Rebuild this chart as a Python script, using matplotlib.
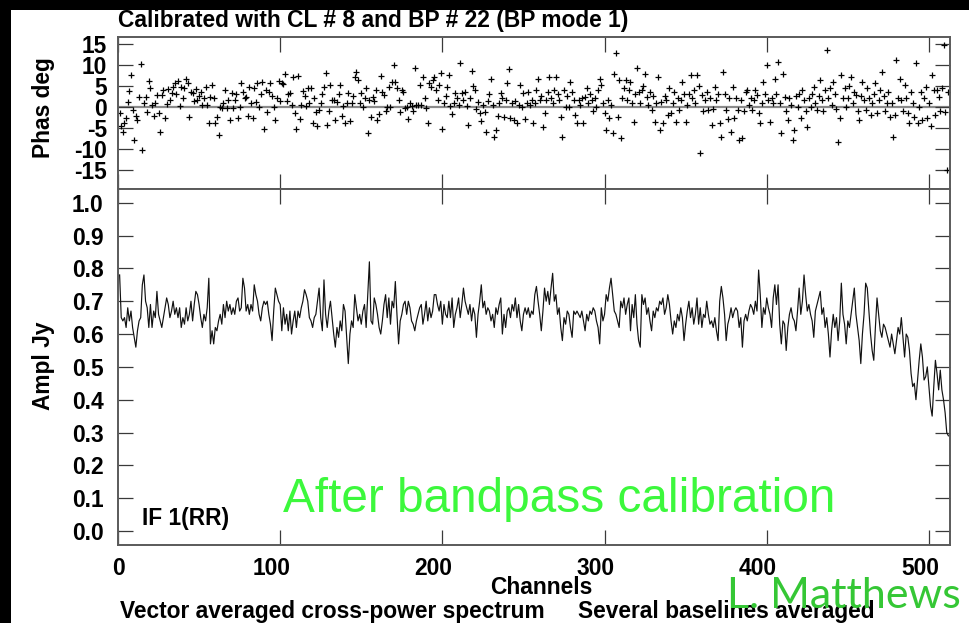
import numpy as np
import matplotlib
matplotlib.use('Agg')
import matplotlib.pyplot as plt
from matplotlib.patches import Rectangle

# ---------------- data ----------------
amplitude = [
    0.78, 0.65, 0.64, 0.65, 0.62, 0.68, 0.64, 0.67, 0.62, 0.59, 0.56, 0.61, 0.64, 0.65, 0.75, 0.78,
    0.70, 0.68, 0.62, 0.69, 0.62, 0.67, 0.65, 0.73, 0.66, 0.64, 0.62, 0.65, 0.68, 0.71, 0.69, 0.65,
    0.67, 0.70, 0.66, 0.68, 0.65, 0.68, 0.62, 0.65, 0.63, 0.68, 0.64, 0.66, 0.70, 0.64, 0.69, 0.73,
    0.72, 0.69, 0.65, 0.62, 0.66, 0.64, 0.68, 0.77, 0.57, 0.61, 0.57, 0.62, 0.61, 0.64, 0.66, 0.63,
    0.69, 0.65, 0.70, 0.67, 0.69, 0.66, 0.68, 0.66, 0.70, 0.71, 0.67, 0.68, 0.77, 0.74, 0.67, 0.69,
    0.66, 0.69, 0.67, 0.75, 0.72, 0.70, 0.66, 0.64, 0.68, 0.70, 0.69, 0.70, 0.66, 0.63, 0.58, 0.67,
    0.74, 0.72, 0.70, 0.69, 0.61, 0.68, 0.63, 0.66, 0.61, 0.67, 0.60, 0.64, 0.67, 0.62, 0.67, 0.65,
    0.68, 0.70, 0.735, 0.72, 0.70, 0.65, 0.64, 0.62, 0.65, 0.66, 0.70, 0.74, 0.65, 0.61, 0.765, 0.66,
    0.62, 0.67, 0.70, 0.65, 0.60, 0.56, 0.62, 0.59, 0.64, 0.61, 0.69, 0.67, 0.59, 0.51, 0.60, 0.64,
    0.62, 0.72, 0.68, 0.64, 0.66, 0.63, 0.67, 0.69, 0.62, 0.72, 0.82, 0.64, 0.63, 0.71, 0.69, 0.66,
    0.62, 0.60, 0.64, 0.69, 0.72, 0.65, 0.71, 0.63, 0.70, 0.68, 0.76, 0.66, 0.57, 0.64, 0.66, 0.69,
    0.70, 0.66, 0.70, 0.68, 0.64, 0.63, 0.61, 0.64, 0.66, 0.68, 0.69, 0.63, 0.66, 0.70, 0.64, 0.68,
    0.65, 0.67, 0.72, 0.72, 0.69, 0.67, 0.70, 0.63, 0.69, 0.66, 0.65, 0.70, 0.65, 0.71, 0.62, 0.66,
    0.68, 0.71, 0.65, 0.69, 0.74, 0.70, 0.68, 0.66, 0.69, 0.64, 0.68, 0.66, 0.59, 0.66, 0.70, 0.75,
    0.68, 0.70, 0.66, 0.68, 0.67, 0.64, 0.66, 0.62, 0.68, 0.66, 0.69, 0.71, 0.60, 0.66, 0.62, 0.67,
    0.68, 0.65, 0.69, 0.67, 0.71, 0.65, 0.69, 0.64, 0.61, 0.66, 0.68, 0.66, 0.68, 0.65, 0.67, 0.66,
    0.72, 0.745, 0.70, 0.66, 0.61, 0.67, 0.74, 0.70, 0.73, 0.69, 0.74, 0.785, 0.70, 0.72, 0.66, 0.68,
    0.62, 0.58, 0.65, 0.63, 0.67, 0.66, 0.62, 0.59, 0.67, 0.66, 0.67, 0.66, 0.65, 0.67, 0.64, 0.61,
    0.66, 0.64, 0.67, 0.66, 0.68, 0.67, 0.64, 0.62, 0.57, 0.68, 0.64, 0.66, 0.72, 0.70, 0.74, 0.77,
    0.72, 0.67, 0.66, 0.64, 0.62, 0.70, 0.68, 0.71, 0.66, 0.69, 0.71, 0.61, 0.69, 0.65, 0.72, 0.63,
    0.58, 0.56, 0.72, 0.69, 0.71, 0.66, 0.68, 0.64, 0.61, 0.67, 0.65, 0.68, 0.67, 0.70, 0.69, 0.71,
    0.66, 0.68, 0.72, 0.69, 0.64, 0.60, 0.64, 0.62, 0.66, 0.64, 0.68, 0.65, 0.58, 0.63, 0.67, 0.70,
    0.65, 0.68, 0.63, 0.66, 0.71, 0.63, 0.68, 0.62, 0.66, 0.65, 0.70, 0.66, 0.63, 0.64, 0.62, 0.65,
    0.61, 0.58, 0.70, 0.745, 0.71, 0.66, 0.58, 0.63, 0.65, 0.68, 0.65, 0.67, 0.68, 0.67, 0.62, 0.65,
    0.56, 0.64, 0.66, 0.64, 0.67, 0.69, 0.68, 0.66, 0.70, 0.67, 0.795, 0.72, 0.62, 0.68, 0.66, 0.71,
    0.68, 0.66, 0.62, 0.71, 0.75, 0.69, 0.75, 0.63, 0.57, 0.64, 0.63, 0.55, 0.62, 0.66, 0.68, 0.65,
    0.64, 0.61, 0.67, 0.74, 0.66, 0.70, 0.78, 0.72, 0.67, 0.69, 0.66, 0.64, 0.59, 0.67, 0.69, 0.71,
    0.73, 0.66, 0.68, 0.62, 0.65, 0.60, 0.53, 0.61, 0.66, 0.62, 0.65, 0.58, 0.64, 0.755, 0.66, 0.63,
    0.57, 0.64, 0.62, 0.66, 0.70, 0.74, 0.66, 0.62, 0.58, 0.51, 0.60, 0.66, 0.755, 0.74, 0.67, 0.60,
    0.55, 0.52, 0.62, 0.71, 0.66, 0.61, 0.59, 0.63, 0.62, 0.60, 0.58, 0.56, 0.60, 0.57, 0.54, 0.58,
    0.62, 0.60, 0.65, 0.59, 0.53, 0.60, 0.59, 0.55, 0.48, 0.44, 0.45, 0.40, 0.46, 0.52, 0.57, 0.53,
    0.46, 0.47, 0.50, 0.44, 0.38, 0.35, 0.44, 0.52, 0.48, 0.43, 0.49, 0.43, 0.40, 0.36, 0.30, 0.29,
]

phase = [
    -1.5, -4.5, -6.0, -3.8, -2.8, 1.2, 3.8, 7.5, -0.8, -7.9, -2.2, -3.2, 2.2, 10.1, -10.2, 0.8,
    2.2, -1.2, 6.2, 4.4, 0.4, -2.2, 1.0, 2.8, -1.4, -6.0, 2.8, 4.0, -2.8, 0.6, 4.1, 1.5,
    3.2, 4.8, 5.6, 3.0, 6.2, 0.2, 4.8, 2.0, 4.4, 6.7, 5.6, -2.4, 3.6, 3.3, 1.4, 4.1,
    1.6, 2.6, 3.5, 0.4, 2.0, 4.8, 0.5, -3.8, 2.4, 5.2, 2.0, -3.8, -2.5, -6.7, 0.0, -0.4,
    1.0, 4.0, -0.4, 1.6, -3.2, 3.2, -0.4, 1.5, 3.0, -2.8, 0.0, 5.7, 3.6, 2.0, 2.4, -2.2,
    4.8, 1.0, -2.8, 4.4, 1.2, 5.6, 0.0, 3.0, 6.0, -5.2, 4.0, -1.2, 3.6, 5.6, 2.5, 0.0,
    -3.2, 2.0, 6.2, 1.4, 5.6, 5.5, 7.9, 1.4, 3.0, 3.2, 0.5, 7.0, -1.4, -5.2, 7.3, -3.0,
    0.4, 3.8, 2.5, 0.2, 4.4, 1.0, 4.4, -4.0, 2.0, -1.2, -4.6, -0.8, 1.0, 3.0, 4.8, 8.1,
    -4.4, -1.0, 5.2, 1.7, 1.6, -3.2, 1.2, 3.0, 5.2, -2.2, 0.2, -3.8, 1.0, 3.3, -3.3, 1.0,
    2.5, 7.0, 8.3, 6.3, 1.0, 3.2, 0.0, 2.0, 4.4, -6.3, 1.5, -2.4, 2.2, 1.4, 4.0, -3.2,
    -1.7, 7.3, 3.6, 2.8, -1.0, 0.0, 4.6, 0.0, 6.0, 9.9, 6.0, 4.4, 1.7, -1.2, 4.0, 3.6,
    -0.4, 0.0, -3.0, 1.0, 0.2, -1.0, 9.1, 0.4, 0.4, 5.2, 0.4, 7.1, 2.0, -0.4, -3.8, 5.7,
    4.6, 6.3, 7.1, 4.0, 1.5, 5.2, 8.1, -5.2, 1.0, 2.5, 4.6, 7.5, 0.2, -1.7, 1.0, 3.2,
    2.0, 0.5, 10.5, 3.2, 1.5, 3.6, 0.2, -4.4, 2.0, 8.6, 4.9, 4.0, -0.6, 1.2, -1.4, -3.3,
    0.5, -1.2, -6.0, 1.4, 3.0, 6.7, 0.4, -7.1, -5.6, -2.2, 1.0, 3.2, 2.0, -2.4, 1.5, 5.6,
    8.9, -2.8, 1.0, -3.2, 1.4, -3.8, 0.4, 5.2, 0.0, 3.2, -3.0, 1.0, 3.6, 0.5, 1.6, -3.8,
    1.0, 4.0, 6.7, 1.6, 2.5, -4.8, -1.5, 1.6, 3.5, 7.1, 2.0, 0.8, 4.0, 7.1, 3.0, 1.6,
    -2.5, -7.1, 4.0, 0.0, 2.5, 0.0, 6.0, 3.5, 1.6, -2.0, -4.0, 1.6, 0.5, 2.0, -3.8, 2.4,
    4.5, 0.8, 3.0, 1.6, -1.0, 2.0, 0.0, 4.0, 6.7, 5.2, 0.8, -1.6, -5.6, 1.5, -2.8, 0.5,
    -6.3, 7.9, 12.7, -2.4, 6.3, -7.5, 2.0, 4.5, 6.3, 1.6, 4.0, 6.0, 1.0, -3.6, 3.0, 9.1,
    3.6, 1.0, 4.0, 5.0, 7.9, 2.4, 0.5, 3.6, -0.8, 2.5, -3.6, 1.0, 7.1, -5.6, 1.2, -4.0,
    2.5, 1.6, -2.0, 4.5, -1.6, 1.0, 3.6, -3.6, 2.0, -0.8, 1.5, 6.0, 3.0, -3.6, 0.5, 3.0,
    7.5, 2.0, 4.0, 1.0, 7.5, 5.0, -11.1, 2.8, -1.0, 1.6, 3.5, -0.8, 2.0, -4.4, -0.5, 4.8,
    1.5, 3.0, -4.0, -7.1, 8.3, 3.0, -0.8, -3.0, 2.0, -6.0, 4.8, -2.8, 2.0, -0.8, -7.9, 1.6,
    -7.5, -1.0, 3.5, 4.0, 0.5, 2.0, -0.8, 1.5, 4.0, 2.8, -1.5, -4.0, 1.0, 6.0, 3.0, 9.9,
    1.5, -3.6, 2.0, 0.8, 6.7, 3.0, 10.7, 1.0, -6.3, 7.9, 2.4, -1.0, -3.2, 2.0, 0.5, -7.9,
    -5.6, 2.5, 0.0, 3.0, -2.8, 4.0, 1.5, -1.0, -4.8, 2.0, 0.0, 3.0, 4.8, 1.0, -0.8, 2.5,
    6.3, 1.5, -1.0, 4.0, 13.5, 2.0, 4.4, 0.5, 6.0, 3.0, -0.5, -8.3, -2.8, 7.5, 2.0, 4.4,
    0.0, 2.0, 5.0, 7.1, 1.0, 3.5, 2.8, -1.0, -3.2, 2.5, 6.0, 1.5, -0.8, 4.4, 2.0, -2.0,
    0.8, 3.0, 5.6, -1.5, 1.6, 4.0, 8.3, 2.5, -1.0, 0.8, 3.5, -2.4, 1.0, -7.1, -2.0, 11.1,
    2.0, 6.7, 1.5, -1.0, 5.2, 2.0, -1.6, -4.0, 3.6, 1.0, -2.5, 10.3, -4.0, 0.0, 3.5, -3.2,
    2.0, 4.8, -2.8, 1.0, -4.5, 7.5, 4.0, -2.0, 4.0, 2.4, -1.0, 4.5, 14.7, -1.2, -15.1, 3.5,
]

amp_channels = np.arange(1, len(amplitude) + 1)
phase_channels = np.arange(1, len(phase) + 1)

x_ticks = [0, 100, 200, 300, 400, 500]
x_tick_labels = ['0', '100', '200', '300', '400', '500']
phase_ticks = [-15, -10, -5, 0, 5, 10, 15]
phase_tick_labels = ['-15', '-10', '-5', '0', '5', '10', '15']
amp_ticks = [0.0, 0.1, 0.2, 0.3, 0.4, 0.5, 0.6, 0.7, 0.8, 0.9, 1.0]
amp_tick_labels = ['0.0', '0.1', '0.2', '0.3', '0.4', '0.5', '0.6', '0.7', '0.8', '0.9', '1.0']

title_text = 'Calibrated with CL # 8 and BP # 22 (BP mode 1)'
phase_label = 'Phas deg'
amp_label = 'Ampl Jy'
x_label = 'Channels'
footer_left = 'Vector averaged cross-power spectrum'
footer_right = 'Several baselines averaged'
if_label = 'IF 1(RR)'
note_text = 'After bandpass calibration'
credit_text = 'L. Matthews'

# ---------------- figure ----------------
W, H = 969, 623
plt.rcParams['font.family'] = ['Liberation Sans', 'DejaVu Sans']
plt.rcParams['font.weight'] = 'bold'
FS = 16.4

fig = plt.figure(figsize=(W / 100, H / 100), dpi=100, facecolor='black')
fig.add_artist(Rectangle((11 / W, 0), 1 - 11 / W, 1 - 10 / H, transform=fig.transFigure,
                         facecolor='white', edgecolor='none', zorder=-10))


def fx(x):
    return x / W


def fy(y):
    return 1 - y / H


L, R = 118, 950
ax1 = fig.add_axes([fx(L), fy(189), (R - L) / W, (189 - 37) / H])
ax2 = fig.add_axes([fx(L), fy(545), (R - L) / W, (545 - 189) / H])

ax1.axhline(0, color='#8a8a8a', lw=1.6, zorder=1)
ax1.plot(phase_channels, phase, linestyle='none', marker='+', ms=4.5, mew=0.9,
         color='black', zorder=2)
ax1.set_xlim(0, 513)
ax1.set_ylim(-19.6, 16.6)

ax2.plot(amp_channels, amplitude, color='#111111', lw=0.85)
ax2.set_xlim(0, 513)
ax2.set_ylim(-0.0426, 1.0418)

for ax in (ax1, ax2):
    ax.set_facecolor('white')
    ax.tick_params(direction='in', length=10.8, width=0.9, color='#3a3a3a',
                   top=True, right=True, labelsize=FS)
    ax.set_xticks(x_ticks)
    ax.set_xticklabels([])
    for s in ax.spines.values():
        s.set_color('#5a5a5a')
        s.set_linewidth(1.4)

ax1.set_yticks(phase_ticks)
ax1.set_yticklabels(phase_tick_labels, fontweight='bold')
ax1.tick_params(axis='y', pad=7.8)
ax2.set_yticks(amp_ticks)
ax2.set_yticklabels(amp_tick_labels, fontweight='bold')
ax2.tick_params(axis='y', pad=10.5)

for v, lab in zip(x_ticks, x_tick_labels):
    dx = 0 if lab == '0' else -6.5
    ax2.annotate(lab, xy=(v, 0), xycoords=('data', 'axes fraction'),
                 xytext=(dx, -8.6), textcoords='offset points',
                 ha='center', va='top', fontsize=FS, fontweight='bold')

fig.text(fx(118), fy(27), title_text, ha='left', va='baseline', fontsize=FS, fontweight='bold')
fig.text(fx(43.5), fy(107.5), phase_label, rotation=90, ha='center', va='center',
         fontsize=FS, fontweight='bold')
fig.text(fx(43.5), fy(366), amp_label, rotation=90, ha='center', va='center',
         fontsize=FS, fontweight='bold')
fig.text(fx(541), fy(594), x_label, ha='center', va='baseline', fontsize=FS, fontweight='bold')
fig.text(fx(120), fy(618), footer_left, ha='left', va='baseline', fontsize=FS, fontweight='bold')
fig.text(fx(578), fy(618), footer_right, ha='left', va='baseline', fontsize=FS, fontweight='bold')
fig.text(fx(142), fy(525), if_label, ha='left', va='baseline', fontsize=FS, fontweight='bold')

note = fig.text(fx(283), fy(512), note_text, ha='left', va='baseline', fontsize=34,
                fontweight='normal', color='#3cf83c', zorder=5)
credit = fig.text(fx(727), fy(608), credit_text, ha='left', va='baseline', fontsize=32,
                  fontweight='normal', color='#35c735', family=['Lato', 'DejaVu Sans'], zorder=6)

# fit the widths of the two green annotations to the reference
fig.canvas.draw()
rend = fig.canvas.get_renderer()
for t, target in ((note, 552), (credit, 235)):
    bb = t.get_window_extent(rend)
    t.set_fontsize(t.get_fontsize() * target / bb.width)

fig.savefig('out.png', dpi=100, facecolor=fig.get_facecolor())
